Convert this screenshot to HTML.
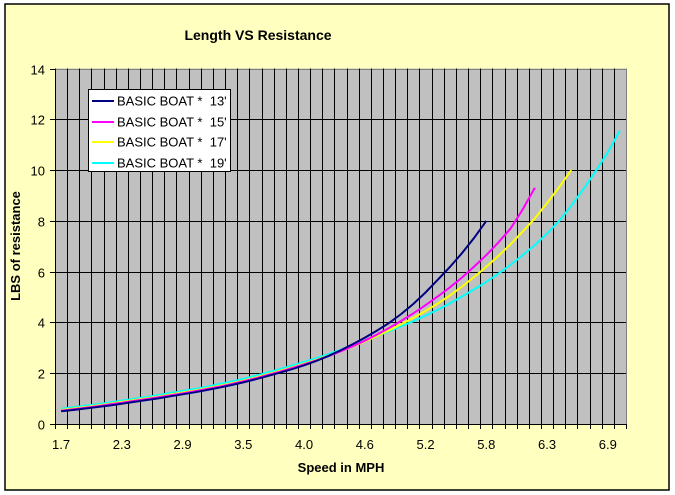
<!DOCTYPE html>
<html><head><meta charset="utf-8"><style>
html,body{margin:0;padding:0;background:#fff}
svg{display:block;font-family:"Liberation Sans",Arial,sans-serif}
text{white-space:pre}
</style></head><body>
<svg id="chart" width="675" height="495">
<rect x="5" y="4" width="664" height="486" fill="#FFFFC0" stroke="#000" stroke-width="1.5"/>
<text x="258" y="40" text-anchor="middle" font-size="14" font-weight="bold">Length VS Resistance</text>
<rect x="55" y="68.5" width="571" height="355.5" fill="#C0C0C0"/>
<g id="grid"></g><g id="series"></g><g id="axes"></g>
<text x="20" y="246" text-anchor="middle" font-size="13" font-weight="bold" transform="rotate(-90 20 246)">LBS of resistance</text>
<text x="341" y="472" text-anchor="middle" font-size="13" font-weight="bold">Speed in MPH</text>
<g>
<rect x="88.5" y="89.5" width="142" height="82" fill="#fff" stroke="#000"/>
<line x1="92" x2="114" y1="101" y2="101" stroke="#000080" stroke-width="2"/>
<text x="117" y="105.5" font-size="13">BASIC BOAT *  13'</text>
<line x1="92" x2="114" y1="122" y2="122" stroke="#FF00FF" stroke-width="2"/>
<text x="117" y="126.5" font-size="13">BASIC BOAT *  15'</text>
<line x1="92" x2="114" y1="142" y2="142" stroke="#FFFF00" stroke-width="2"/>
<text x="117" y="146.5" font-size="13">BASIC BOAT *  17'</text>
<line x1="92" x2="114" y1="163" y2="163" stroke="#00FFFF" stroke-width="2"/>
<text x="117" y="167.5" font-size="13">BASIC BOAT *  19'</text>
</g>
</svg>
<script>
const categories=["1.7","1.8","2.0","2.1","2.2","2.3","2.4","2.5","2.6","2.8","2.9","3.0","3.1","3.2","3.3","3.5","3.6","3.7","3.8","3.9","4.0","4.1","4.3","4.4","4.5","4.6","4.7","4.8","4.9","5.1","5.2","5.3","5.4","5.5","5.6","5.8","5.9","6.0","6.1","6.2","6.3","6.4","6.6","6.7","6.8","6.9","7.0"];
const boat13=[0.5,0.55,0.61,0.67,0.73,0.8,0.87,0.94,1.01,1.09,1.17,1.25,1.34,1.43,1.53,1.64,1.76,1.89,2.02,2.16,2.31,2.48,2.68,2.9,3.14,3.4,3.68,3.98,4.33,4.73,5.18,5.68,6.18,6.73,7.33,8.0];
const boat15=[0.52,0.58,0.64,0.7,0.77,0.84,0.91,0.98,1.05,1.13,1.21,1.29,1.38,1.47,1.57,1.68,1.8,1.93,2.06,2.2,2.35,2.5,2.67,2.86,3.06,3.28,3.52,3.78,4.06,4.36,4.68,5.02,5.38,5.77,6.2,6.65,7.15,7.7,8.45,9.3];
const boat17=[0.55,0.61,0.67,0.73,0.8,0.87,0.94,1.01,1.08,1.16,1.24,1.32,1.41,1.5,1.6,1.71,1.83,1.96,2.09,2.23,2.38,2.53,2.69,2.86,3.05,3.25,3.46,3.69,3.93,4.18,4.45,4.74,5.06,5.41,5.79,6.19,6.62,7.08,7.58,8.1,8.7,9.33,10.0];
const boat19=[0.6,0.66,0.72,0.78,0.85,0.92,0.99,1.06,1.14,1.22,1.3,1.38,1.47,1.57,1.67,1.78,1.9,2.03,2.16,2.3,2.44,2.59,2.75,2.92,3.1,3.28,3.46,3.65,3.85,4.05,4.27,4.5,4.75,5.02,5.3,5.6,5.92,6.27,6.65,7.05,7.5,8.0,8.6,9.25,9.95,10.7,11.55];
const yTicks=[0,2,4,6,8,10,12,14];
const NS="http://www.w3.org/2000/svg";
const L=55,R=626,T=68.5,B=424,YMAX=14;
const cw=(R-L)/categories.length;
function xPos(i){return L+cw*(i+0.5);}
function yPos(v){return B-(v/YMAX)*(B-T);}
function mk(tag,attrs,parent){const e=document.createElementNS(NS,tag);for(const k in attrs)e.setAttribute(k,attrs[k]);parent.appendChild(e);return e;}
const grid=document.getElementById('grid'),axes=document.getElementById('axes'),ser=document.getElementById('series');
yTicks.forEach(v=>{
  const y=Math.round(yPos(v))+0.5;
  if(v>0){const g=mk('line',{x1:L,x2:R,y1:y,y2:y,stroke:v===YMAX?'#808080':'#000'},grid);
  
  }
  const t=mk('line',{x1:L-5,x2:L,y1:y,y2:y,stroke:'#000'},axes);
  
  
  const tx=mk('text',{x:L-10,y:y+5,'text-anchor':'end','font-size':'13'},axes);
  tx.textContent=v;
  
  
});
for(let i=0;i<=categories.length;i++){
  const x=Math.round(L+cw*i)+0.5;
  if(i>0&&i<categories.length){const g=mk('line',{x1:x,x2:x,y1:T,y2:B,stroke:'#000'},grid);
  
  }
  if(i===categories.length){const g=mk('line',{x1:x,x2:x,y1:T,y2:B,stroke:'#808080'},grid);
  
  }
  const t=mk('line',{x1:x,x2:x,y1:B,y2:B+5,stroke:'#000'},axes);
  
  
}
categories.forEach((c,i)=>{
  if(i%5!==0)return;
  const tx=mk('text',{x:xPos(i),y:449,'text-anchor':'middle','font-size':'13'},axes);
  tx.textContent=c;
  
  
});
const ya=mk('line',{x1:L+0.5,x2:L+0.5,y1:T,y2:B,stroke:'#000'},axes);


const xa=mk('line',{x1:L,x2:R,y1:B+0.5,y2:B+0.5,stroke:'#000'},axes);


[[boat19,'#00FFFF','series-19ft'],[boat17,'#FFFF00','series-17ft'],[boat15,'#FF00FF','series-15ft'],[boat13,'#000080','series-13ft']].forEach(([d,col,name])=>{
  const pts=d.map((v,i)=>xPos(i).toFixed(1)+','+yPos(v).toFixed(1)).join(' ');
  const p=mk('polyline',{points:pts,fill:'none',stroke:col,'stroke-width':'2'},ser);
  
  
});
</script>
</body></html>
